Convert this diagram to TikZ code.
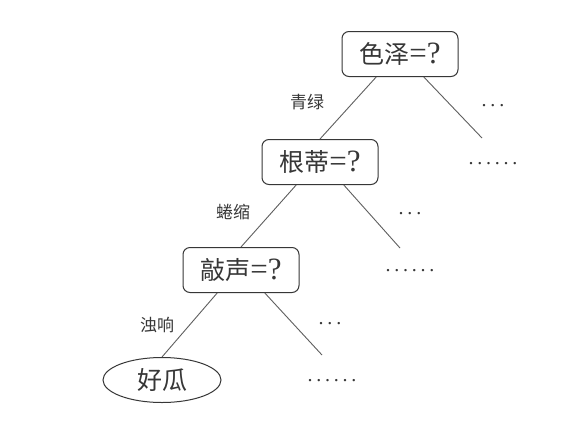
\documentclass[tikz,border=0pt]{standalone}
\usepackage{fontspec}
\setmainfont{Liberation Serif}
\newfontfamily\cjk{Noto Sans CJK SC}
\usetikzlibrary{shapes.geometric}
\definecolor{ink}{RGB}{55,55,55}
\definecolor{edge}{RGB}{95,95,95}
\newcommand{\qm}{{\fontsize{31}{34}\selectfont =?}}
\newcommand{\dotrow}[1]{\foreach \i in {1,...,#1}{\makebox[8.8pt]{\fontsize{20}{20}\selectfont .}}}
\tikzset{
  qbox/.style={draw=ink, line width=1pt, rounded corners=7pt, minimum width=116pt, minimum height=45pt, inner sep=0pt, text=ink, font=\fontsize{25}{30}\selectfont},
  leafnode/.style={ellipse, draw=ink, line width=1pt, minimum width=118pt, minimum height=45pt, inner sep=0pt, text=ink, font=\fontsize{25}{30}\selectfont},
  branch/.style={draw=edge, line width=0.9pt},
  elabel/.style={text=ink, font=\cjk\fontsize{17}{19}\selectfont},
  dotsnode/.style={text=ink, inner sep=0pt}
}
\begin{document}
\begin{tikzpicture}[x=1pt,y=-1pt]
\useasboundingbox (0,0) rectangle (574,424);
\fill[white] (0,0) rectangle (574,424);
\node[qbox] (b1) at (400,54) {{\cjk 色泽}\qm};
\node[qbox] (b2) at (320,162) {{\cjk 根蒂}\qm};
\node[qbox] (b3) at (241,270) {{\cjk 敲声}\qm};
\node[leafnode] (leaf) at (162,380) {\cjk 好瓜};
\coordinate (r1) at (482,138);
\coordinate (r2) at (400,248);
\coordinate (r3) at (322,355);
\draw[branch] (b1.224) -- (b2.north);
\draw[branch] (b1.316) -- (r1);
\draw[branch] (b2.224) -- (b3.north);
\draw[branch] (b2.316) -- (r2);
\draw[branch] (b3.224) -- (leaf.north);
\draw[branch] (b3.316) -- (r3);
\node[elabel] (l1) at (307,102) {青绿};
\node[elabel] (l2) at (233,212) {蜷缩};
\node[elabel] (l3) at (157,325) {浊响};
\node[dotsnode] (d1) at (493,106) {\dotrow{3}};
\node[dotsnode] (d2) at (493,164) {\dotrow{6}};
\node[dotsnode] (d3) at (410,214) {\dotrow{3}};
\node[dotsnode] (d4) at (410,271) {\dotrow{6}};
\node[dotsnode] (d5) at (330,324) {\dotrow{3}};
\node[dotsnode] (d6) at (332,381) {\dotrow{6}};
\end{tikzpicture}
\end{document}
